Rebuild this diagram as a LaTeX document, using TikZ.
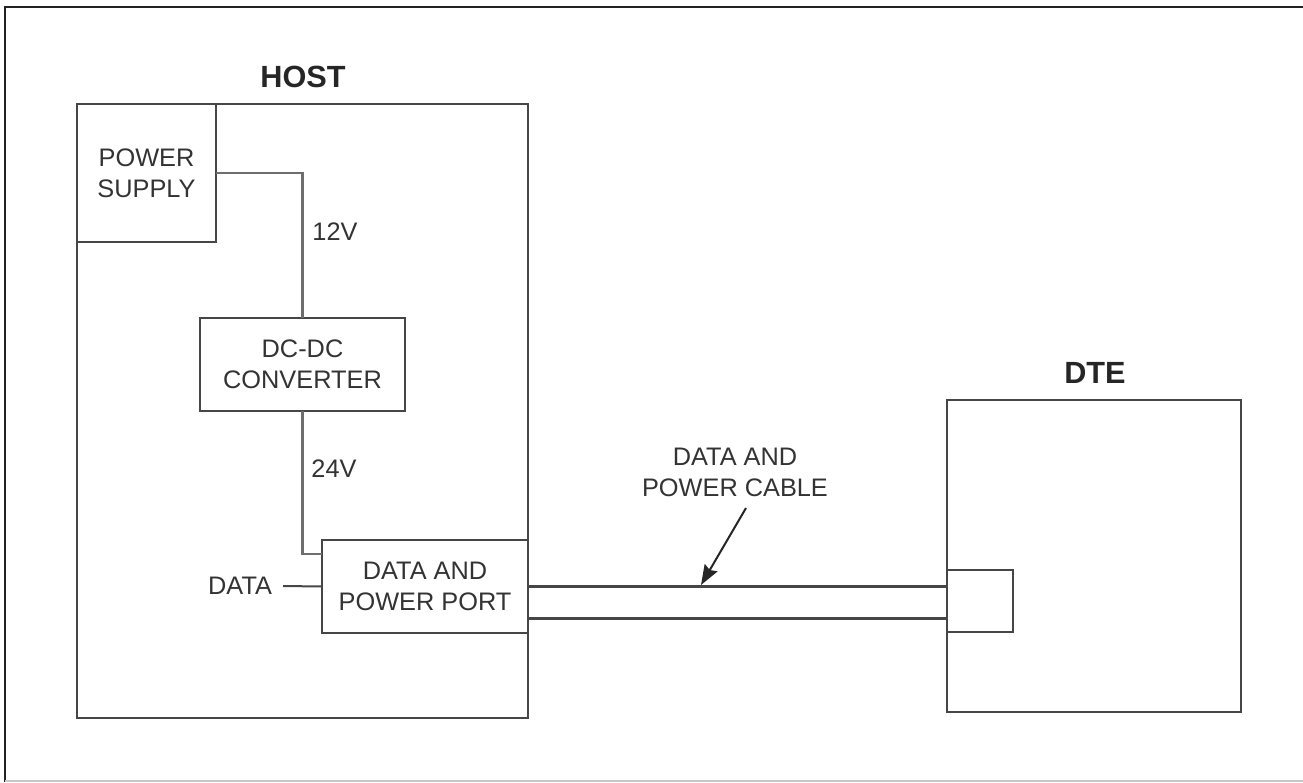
\documentclass[tikz,border=0pt]{standalone}
\usepackage{fontspec}
\setmainfont{Liberation Sans}
\usetikzlibrary{arrows.meta}
\definecolor{ln}{RGB}{70,70,70}
\definecolor{cn}{RGB}{110,110,110}
\definecolor{frame}{RGB}{35,35,35}
\definecolor{lightframe}{RGB}{200,200,200}
\tikzset{
  box/.style={draw=ln, line width=1.7pt, rectangle, inner sep=0pt, outer sep=0pt, align=center,
    font=\fontsize{19}{23.25}\selectfont, text=black!80},
  wire/.style={draw=cn, line width=1.7pt},
  lbl/.style={inner sep=0pt, align=center, font=\fontsize{19}{23.25}\selectfont, text=black!80},
  title/.style={inner sep=0pt, font=\fontsize{23}{27}\selectfont\bfseries, text=black!85},
}
\begin{document}
\begin{tikzpicture}[x=0.75pt,y=-0.75pt]
\useasboundingbox (0,0) rectangle (1303,782);
% outer frame
\draw[frame, line width=2.2pt] (1303,7) -- (5,7) -- (5,782);
\draw[lightframe, line width=1.2pt] (5,781) -- (1303,781);

% host
\node[box, minimum width=338.25pt, minimum height=460.5pt] (host) at (302.5,411) {};
\node[title] (hostlbl) at (303,77) {HOST};
\node[box, fill=white, minimum width=104.25pt, minimum height=103.5pt] (ps) at (146.5,173) {POWER\\SUPPLY};
\node[box, minimum width=153.75pt, minimum height=69.75pt] (dc) at (302.5,364.5) {DC-DC\\CONVERTER};
\node[box, minimum width=154.5pt, minimum height=69.75pt] (port) at (425,586.5) {DATA AND\\POWER PORT};

% DTE
\node[box, minimum width=220.5pt, minimum height=234pt] (dte) at (1094,556) {};
\node[title] (dtelbl) at (1095,373) {DTE};
\node[box, minimum width=49.5pt, minimum height=46.5pt] (conn) at (980,601) {};

% wires
\draw[wire] (ps.east) -| (dc.north);
\draw[wire] (dc.south) |- ([yshift=-10.5pt]port.north west);
\node[lbl] (v12) at (335,232) {12V};
\node[lbl] (v24) at (334,469) {24V};

\node[lbl, anchor=east, outer xsep=8.25pt] (data) at (283,586) {DATA};
\draw[draw=ln, line width=1.5pt] (data.east) -- (port.west);

% cable
\draw[draw=ln, line width=1.7pt] (port.east) -- (port.east -| dte.west);
\draw[draw=ln, line width=1.7pt] ([yshift=-24pt]port.east) -- ([yshift=-24pt]port.east -| dte.west);

\node[lbl] (cablelbl) at (735,472) {DATA AND\\POWER CABLE};
\coordinate (atail) at (746,508);
\coordinate (ahead) at (701,585);
\draw[draw=black!85, line width=1.5pt, -{Stealth[length=15pt,width=11pt,inset=2pt]}] (atail) -- (ahead);
\end{tikzpicture}
\end{document}
